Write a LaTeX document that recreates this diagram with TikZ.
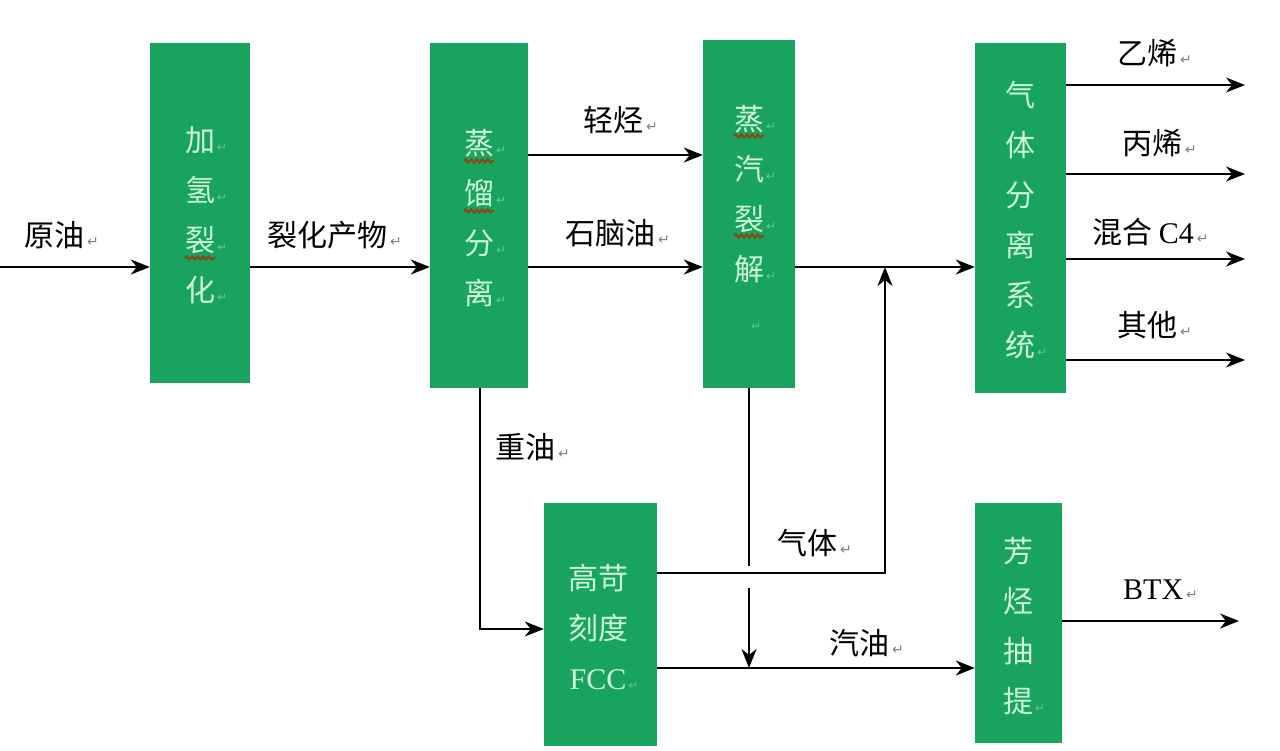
\documentclass[tikz,border=0pt]{standalone}
\usepackage{fontspec}
\setmainfont{Liberation Serif}
\newfontfamily\cjk{Noto Sans CJK SC}
\newfontfamily\symf{DejaVu Sans}
\usetikzlibrary{arrows.meta,decorations.pathmorphing}
\definecolor{boxgreen}{RGB}{24,164,94}
\definecolor{mint}{RGB}{205,247,215}
\definecolor{wavy}{RGB}{140,70,20}
\newcommand{\retm}{\hspace{3pt}{\symf\fontsize{14}{14}\selectfont\textcolor{gray}{↵}}}
\newcommand{\bret}{\rlap{\hspace{2pt}\symf\fontsize{12}{12}\selectfont\textcolor{boxgreen!65!white}{↵}}}
\tikzset{
  procbox/.style={fill=boxgreen, draw=none, inner sep=0pt},
  boxtext/.style={font=\cjk\fontsize{30}{50}\selectfont, text=mint, align=center, inner sep=0pt},
  lbl/.style={font=\cjk\fontsize{30}{30}\selectfont, anchor=west, inner sep=0pt},
  arr/.style={line width=1.8pt, -{Stealth[length=19pt,width=15pt,inset=6pt]}},
  ln/.style={line width=1.8pt},
  squig/.style={draw=wavy, line width=2pt, decorate, decoration={snake, amplitude=1.6pt, segment length=5.5pt}}
}
\begin{document}
\begin{tikzpicture}[x=1pt,y=-1pt]
\useasboundingbox (0,0) rectangle (1280,750);
\fill[white] (0,0) rectangle (1280,750);

% boxes
\node[procbox, minimum width=100pt, minimum height=340pt] (b1) at (200,213) {};
\node[procbox, minimum width=98pt, minimum height=345pt] (b2) at (479,215.5) {};
\node[procbox, minimum width=92pt, minimum height=348pt] (b3) at (749,214) {};
\node[procbox, minimum width=91pt, minimum height=350pt] (b4) at (1020.5,218) {};
\node[procbox, minimum width=113pt, minimum height=243pt] (b5) at (600.5,624.5) {};
\node[procbox, minimum width=87pt, minimum height=240pt] (b6) at (1018.5,623) {};

% box texts
\node[boxtext] (t1) at (200,215) {加\bret\\氢\bret\\裂\bret\\化\bret};
\node[boxtext] (t2) at (479,218) {蒸\bret\\馏\bret\\分\bret\\离\bret};
\node[boxtext] (t3) at (749,218) {蒸\bret\\汽\bret\\裂\bret\\解\bret\\\bret};
\node[boxtext] (t4) at (1020,220) {气\\体\\分\\离\\系\\统\bret};
\node[boxtext] (t5) at (598,627) {高苛\\刻度\\{\rmfamily FCC}\bret};
\node[boxtext] (t6) at (1018,626) {芳\\烃\\抽\\提\bret};

% spell-check squiggles
\draw[squig] (185,258) -- (215,258);
\draw[squig] (464,161) -- (494,161);
\draw[squig] (464,211) -- (494,211);
\draw[squig] (734,136) -- (764,136);
\draw[squig] (734,236) -- (764,236);

% labels
\node[lbl] (l1) at (24,235) {原油\retm};
\node[lbl] (l2) at (267,235) {裂化产物\retm};
\node[lbl] (l3) at (583,120) {轻烃\retm};
\node[lbl] (l4) at (565,233) {石脑油\retm};
\node[lbl] (l5) at (495,447) {重油\retm};
\node[lbl] (l6) at (777,543) {气体\retm};
\node[lbl] (l7) at (829,643) {汽油\retm};
\node[lbl] (l8) at (1117,53) {乙烯\retm};
\node[lbl] (l9) at (1122,143) {丙烯\retm};
\node[lbl] (l10) at (1092,232) {混合 {\rmfamily C4}\retm};
\node[lbl] (l11) at (1117,325) {其他\retm};
\node[lbl, font=\rmfamily\fontsize{30}{30}\selectfont] (l12) at (1123,590) {BTX\retm};

% coordinates
\coordinate (in0) at (0,267);
\coordinate (ylight) at (0,155);
\coordinate (gj) at (885,267);
\coordinate (gc) at (885,573);
\coordinate (hc) at (480,629);
\coordinate (v1) at (749,566);
\coordinate (v2) at (749,588);
\coordinate (v3) at (749,668);
\coordinate (o1) at (1245,85);
\coordinate (o2) at (1245,174);
\coordinate (o3) at (1245,259);
\coordinate (o4) at (1245,360);
\coordinate (bt) at (1239,621);

% connectors
\draw[arr] (in0) -- (in0 -| b1.west);
\draw[arr] (b1.east |- in0) -- (b2.west |- in0);
\draw[arr] (b2.east |- ylight) -- (b3.west |- ylight);
\draw[arr] (b2.east |- in0) -- (b3.west |- in0);
\draw[arr] (b3.east |- in0) -- (b4.west |- in0);
\draw[arr] (b5.east |- gc) -- (gc) -- (gj);
\draw[arr] (b2.south -| hc) -- (hc) -- (b5.west |- hc);
\draw[ln] (b3.south) -- (v1);
\draw[arr] (v2) -- (v3);
\draw[arr] (b5.east |- v3) -- (b6.west |- v3);
\draw[arr] (b4.east |- o1) -- (o1);
\draw[arr] (b4.east |- o2) -- (o2);
\draw[arr] (b4.east |- o3) -- (o3);
\draw[arr] (b4.east |- o4) -- (o4);
\draw[arr] (b6.east |- bt) -- (bt);
\end{tikzpicture}
\end{document}
